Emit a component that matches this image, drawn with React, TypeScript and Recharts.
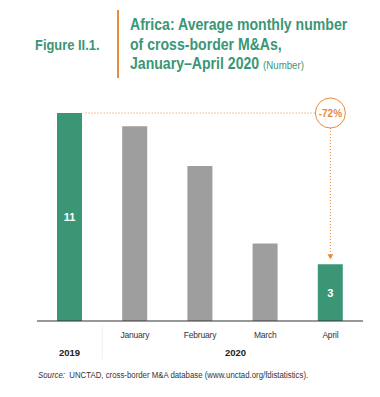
import { BarChart, Bar, XAxis, YAxis, Cell, LabelList, ReferenceLine, ReferenceDot } from "recharts"

const months = ["2019", "January", "February", "March", "April"]
const values = [11, 10.3, 8.2, 4.1, 3]
const highlighted = [true, false, false, false, true]
const valueLabels = ["11", "", "", "", "3"]
const changeLabel = "-72%"

const GREEN = "#3b9675"
const GREY = "#9e9e9e"
const ORANGE = "#e98a3c"
const FONT = "'Liberation Sans', Arial, sans-serif"

const data = months.map((m, i) => ({ month: m, value: values[i], label: valueLabels[i], hi: highlighted[i] }))

const BAND = (363 - 37) / months.length

function MonthTick(props: any) {
  const { x, y, payload, index } = props
  return (
    <g>
      {index !== 0 && (
        <text x={x} y={y + 9} textAnchor="middle" fontSize={8.5} fill="#333" fontFamily={FONT} letterSpacing={-0.2}>
          {payload.value}
        </text>
      )}
      {index === 0 && (
        <>
          <text x={x} y={y + 27} textAnchor="middle" fontSize={9.5} fontWeight="bold" fill="#222" fontFamily={FONT}>
            2019
          </text>
          <line x1={x + BAND / 2} x2={x + BAND / 2} y1={y - 4} y2={y + 30} stroke="#f0f0f0" />
        </>
      )}
      {index === 2 && (
        <text x={x + BAND / 2 + 3} y={y + 27} textAnchor="middle" fontSize={9.5} fontWeight="bold" fill="#222" fontFamily={FONT}>
          2020
        </text>
      )}
    </g>
  )
}

function TopLine(props: any) {
  const { x1, y1, x2, y2 } = props
  return <line x1={x1 + 16} y1={y1} x2={x2 - 15} y2={y2} stroke={ORANGE} strokeWidth={1} strokeDasharray="1 2" />
}

function DownArrow(props: any) {
  const { x1, y1, x2, y2 } = props
  const top = Math.min(y1, y2) + 15
  const bottom = Math.max(y1, y2) - 5
  return (
    <g>
      <line x1={x1} y1={top} x2={x2} y2={bottom - 4} stroke={ORANGE} strokeWidth={1} strokeDasharray="1 2" />
      <path d={`M${x2 - 3},${bottom - 5} L${x2 + 3},${bottom - 5} L${x2},${bottom} Z`} fill={ORANGE} />
    </g>
  )
}

export default function App() {
  return (
    <div style={{ position: "absolute", left: 0, top: 0, width: 380, height: 397, background: "#fff", fontFamily: FONT }}>
      <div
        style={{
          position: "absolute",
          left: 35,
          top: 36,
          fontSize: 15,
          fontWeight: "bold",
          color: GREEN,
          transform: "scaleX(0.86)",
          transformOrigin: "left top",
          whiteSpace: "nowrap",
        }}
      >
        Figure II.1.
      </div>
      <div style={{ position: "absolute", left: 117, top: 10, width: 2, height: 68, background: ORANGE }} />
      <div
        style={{
          position: "absolute",
          left: 130,
          top: 15,
          fontSize: 16,
          lineHeight: "19.5px",
          fontWeight: "bold",
          color: GREEN,
          transform: "scaleX(0.88)",
          transformOrigin: "left top",
          whiteSpace: "nowrap",
        }}
      >
        Africa: Average monthly number
        <br />
        of cross-border M&amp;As,
        <br />
        January–April 2020 <span style={{ fontSize: 11, fontWeight: "normal" }}>(Number)</span>
      </div>
      <div style={{ position: "absolute", left: 0, top: 0 }}>
        <BarChart width={380} height={397} data={data} margin={{ top: 113, right: 17, bottom: 0, left: 37 }} barSize={25}>
          <YAxis hide domain={[0, 11]} />
          <XAxis
            dataKey="month"
            axisLine={{ stroke: "#333", strokeWidth: 1.2 }}
            tickLine={false}
            tick={<MonthTick />}
            interval={0}
            height={76}
          />
          <Bar dataKey="value" isAnimationActive={false}>
            {data.map((d, i) => (
              <Cell key={i} fill={d.hi ? GREEN : GREY} />
            ))}
            <LabelList dataKey="label" position="center" fill="#fff" fontSize={11} fontWeight="bold" fontFamily={FONT} />
          </Bar>
          <ReferenceLine segment={[{ x: "2019", y: 11 }, { x: "April", y: 11 }]} shape={<TopLine />} />
          <ReferenceLine segment={[{ x: "April", y: 11 }, { x: "April", y: 3 }]} shape={<DownArrow />} />
          <ReferenceDot
            x="April"
            y={11}
            r={15}
            fill="#fff"
            stroke={ORANGE}
            strokeWidth={1}
            label={{ value: changeLabel, position: "center", fill: ORANGE, fontSize: 10, fontWeight: "bold", fontFamily: FONT }}
          />
        </BarChart>
      </div>
      <div
        style={{
          position: "absolute",
          left: 38,
          top: 370,
          fontSize: 8.5,
          color: "#333",
          transform: "scaleX(0.92)",
          transformOrigin: "left top",
          whiteSpace: "nowrap",
        }}
      >
        <i>Source:</i>&nbsp; UNCTAD, cross-border M&amp;A database (www.unctad.org/fdistatistics).
      </div>
    </div>
  )
}
